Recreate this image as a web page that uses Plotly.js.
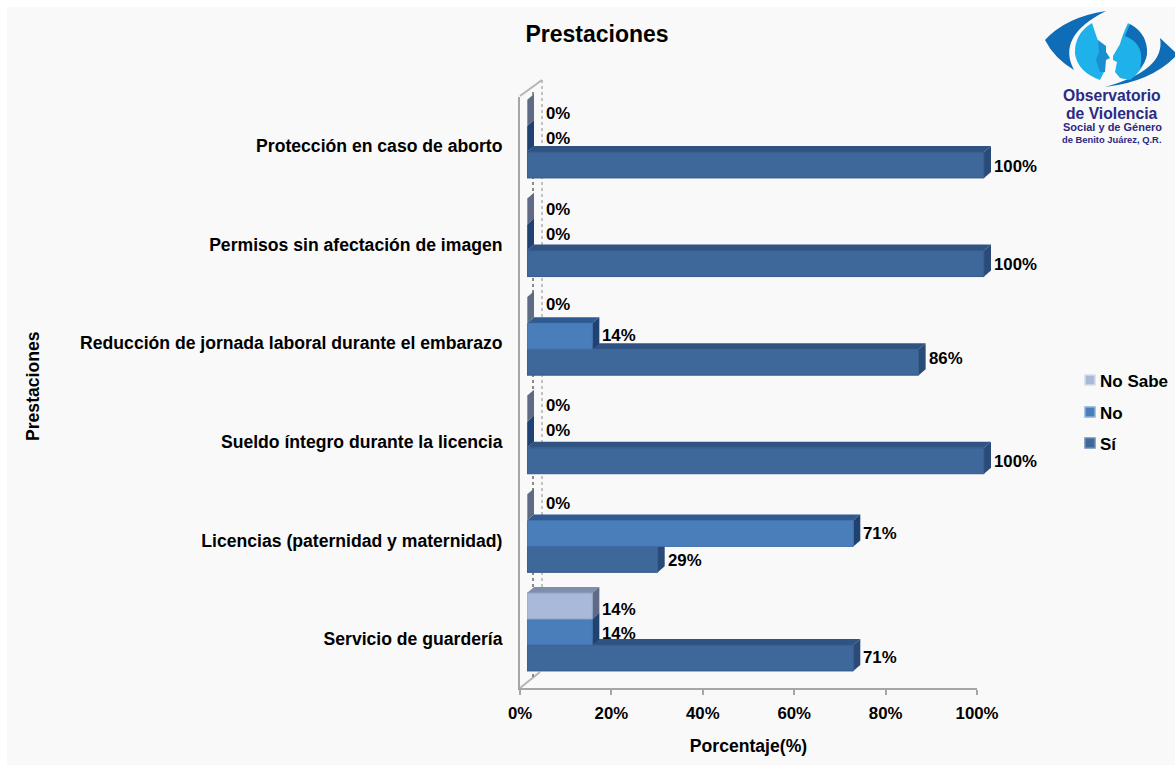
<!DOCTYPE html>
<html><head><meta charset="utf-8">
<script src="https://cdn.plot.ly/plotly-3.0.1.min.js"></script>
<style>html,body{margin:0;padding:0;background:#fff}#c{width:1175px;height:772px}</style>
</head><body><div id="c"></div>
<script>
// ---- data
const categories = ["Servicio de guardería","Licencias (paternidad y maternidad)","Sueldo íntegro durante la licencia","Reducción de jornada laboral durante el embarazo","Permisos sin afectación de imagen","Protección en caso de aborto"];
const si      = [71.4,28.6,100,85.7,100,100];
const no      = [14.3,71.4,0,14.3,0,0];
const noSabe  = [14.3,0,0,0,0,0];
const xTicks  = [0,20,40,60,80,100];
const xTickLabels = ["0%","20%","40%","60%","80%","100%"];
const siLabels     = ["71%","29%","100%","86%","100%","100%"];
const noLabels     = ["14%","71%","0%","14%","0%","0%"];
const noSabeLabels = ["14%","0%","0%","0%","0%","0%"];

// ---- layout constants
const W=1175,H=772,FONT='"Liberation Sans", Arial, sans-serif';
const plotL=520,plotR=977,plotB=688.3,pitch=98.6;
const offX=7,offY=7;                 // 3-D shift of bars relative to the axes
const depthX=7,depthY=6;             // extrude depth
const pxPerUnit=(plotR-plotL)/100;
const x2Extra=4;                     // room for the extrude past 100
const groupFrac=0.79,barW=groupFrac/3;
const dx=depthX/pxPerUnit,dy=depthY/pitch;
const fx=p=>p/W, fy=p=>1-p/H;

const series=[
 {name:"Sí",vals:si,labels:siLabels,off:-barW,front:"#3e6899",line:"#33598a",top:"#2f5482",side:"#2a4b78",nudge:[0,1,1,-4,1,2],legendY:444,swatchEdge:"#6f8db3"},
 {name:"No",vals:no,labels:noLabels,off:0,front:"#4a7ebb",line:"#3f6ea6",top:"#2f5a92",side:"#1f4272",nudge:[1,0,-4,-1,-3,-1],legendY:413,swatchEdge:"#8fb0d8"},
 {name:"No Sabe",vals:noSabe,labels:noSabeLabels,off:barW,front:"#a9b9d9",line:"#93a5c9",top:"#7f8ea9",side:"#5f6b85",nudge:[3,-4,-3,-6,-2,0],legendY:381,swatchEdge:"#d5dcec"}
];
const rows=categories.map((_,i)=>i);

const traces=[{type:"scatter",x:[0],y:[0],xaxis:"x",yaxis:"y",mode:"markers",marker:{size:1,opacity:0},showlegend:false,hoverinfo:"skip"}];
series.forEach(s=>traces.push({type:"bar",orientation:"h",name:s.name,showlegend:false,x:s.vals,y:rows,xaxis:"x2",yaxis:"y2",
  marker:{color:s.front,line:{color:s.line,width:1}},hoverinfo:"x+name"}));

// ---- background, walls
const shapes=[
 {type:"rect",xref:"paper",yref:"paper",x0:fx(7),x1:1,y0:fy(765),y1:fy(7),fillcolor:"#f9f9f9",line:{width:0},layer:"below"}
];
const pline=(a,b,c,d,col,w,dash)=>shapes.push({type:"line",xref:"paper",yref:"paper",x0:fx(a),y0:fy(b),x1:fx(c),y1:fy(d),line:{color:col,width:w,dash:dash||"solid"},layer:"below"});
pline(520,96,542,80,"#b5b5b5",2);
pline(542,80,542,672,"#b0b0b0",1.5,"dot");
pline(520,688,540,672,"#b5b5b5",2);
pline(533,92,533,680,"#8a8a8a",2,"dot");

// ---- extruded faces computed from the values
series.forEach(s=>{
  s.vals.forEach((v,i)=>{
    const y0=i+s.off-barW/2,y1=i+s.off+barW/2;
    const side=`M${v},${y0} L${v+dx},${y0+dy} L${v+dx},${y1+dy} L${v},${y1} Z`;
    const top=`M0,${y1} L${dx},${y1+dy} L${v+dx},${y1+dy} L${v},${y1} Z`;
    if(v>0) shapes.push({type:"path",xref:"x2",yref:"y2",path:top,fillcolor:s.top,line:{width:0},layer:"below"});
    shapes.push({type:"path",xref:"x2",yref:"y2",path:side,fillcolor:s.side,line:{width:0},layer:"below"});
  });
});

// ---- value labels
const annotations=[];
series.forEach(s=>s.vals.forEach((v,i)=>annotations.push({
  xref:"x2",yref:"y2",x:v,y:i+s.off,text:s.labels[i],showarrow:false,xanchor:"left",yanchor:"middle",
  xshift:v===0?17:8,yshift:-s.nudge[i],font:{family:FONT,size:16.8,color:"#000",weight:700}
})));

// ---- legend (spacing wider than a native legend allows next to the page edge)
series.forEach(s=>{
  shapes.push({type:"rect",xref:"paper",yref:"paper",x0:fx(1085),x1:fx(1095),y0:fy(s.legendY+4),y1:fy(s.legendY-6),fillcolor:s.front,line:{color:s.swatchEdge,width:1.5},layer:"below"});
  annotations.push({xref:"paper",yref:"paper",x:fx(1098),y:fy(s.legendY),text:s.name,showarrow:false,xanchor:"left",yanchor:"middle",font:{family:FONT,size:17,color:"#000",weight:700}});
});

// ---- logo
const lp=(d,col)=>shapes.push({type:"path",xref:"paper",yref:"paper",fillcolor:col,line:{width:0},layer:"below",
  path:d.replace(/(-?[\d.]+),(-?[\d.]+)/g,(m,a,b)=>fx(+a)+","+fy(+b))});
lp("M1106,11 Q1066,17 1045,40 Q1054,58 1074,70 Q1056,36 1106,11 Z","#0f6cb6");
lp("M1105,87 Q1150,82 1175,57 L1175,52 L1160,38 Q1166,70 1105,87 Z","#0f6cb6");
lp("M1092,23 Q1074,34 1075,54 Q1078,72 1100,80 L1104,72 L1103,64 L1099,58 L1102,50 L1097,38 Z","#1fb2ea");
lp("M1098,40 L1106,46 L1106,52 L1110,58 L1106,60 L1105,72 L1100,72 L1096,60 L1099,52 Z","#1a8fd0");
lp("M1128,23 Q1122,36 1120,44 L1113,56 L1113,60 L1117,62 L1115,72 L1120,78 L1130,80 Q1146,68 1147,50 Q1144,34 1128,23 Z","#1fb2ea");
lp("M1130,24 Q1148,34 1147,54 Q1146,62 1140,68 Q1146,44 1125,36 Z","#0f6cb6");
const logoText=(t,y,size,w)=>annotations.push({xref:"paper",yref:"paper",x:fx(1112),y:fy(y),text:t,showarrow:false,xanchor:"center",yanchor:"middle",font:{family:FONT,size:size,color:"#2b2a84",weight:w}});
logoText("Observatorio",95.5,15.7,700);
logoText("de Violencia",113.5,15.7,700);
logoText("Social y de Género",127,11,700);
logoText("de Benito Juárez, Q.R.",140,9.4,700);

// ---- axes
const tickFont={family:FONT,size:16.8,color:"#000",weight:700};
const catFont={family:FONT,size:17.6,color:"#000",weight:700};
const layout={
 width:W,height:H,margin:{l:0,r:0,t:0,b:0,pad:0},paper_bgcolor:"rgba(0,0,0,0)",plot_bgcolor:"rgba(0,0,0,0)",
 showlegend:false,barmode:"group",bargap:1-groupFrac,bargroupgap:0,
 title:{text:"Prestaciones",font:{family:FONT,size:23,color:"#000",weight:700},x:fx(597),xanchor:"center",y:fy(34),yanchor:"middle"},
 xaxis:{domain:[fx(plotL),fx(plotR)],range:[0,100],anchor:"y",tickmode:"array",tickvals:xTicks,ticktext:xTickLabels,ticks:"outside",ticklen:5,tickwidth:2,tickcolor:"#a6a6a6",ticklabelstandoff:4,
   showgrid:false,zeroline:false,showline:true,linecolor:"#a6a6a6",linewidth:2,tickfont:tickFont,automargin:false,
   title:{text:"Porcentaje(%)",font:catFont,standoff:17}},
 yaxis:{domain:[fy(plotB),fy(plotB-6*pitch)],range:[-0.5,5.5],anchor:"x",tickmode:"array",tickvals:rows,ticktext:categories,ticks:"",ticklabelstandoff:12,
   showgrid:false,zeroline:false,showline:true,linecolor:"#a6a6a6",linewidth:2,tickfont:catFont,automargin:false},
 xaxis2:{domain:[fx(plotL+offX),fx(plotR+offX+x2Extra*pxPerUnit)],range:[0,100+x2Extra],anchor:"y2",visible:false,fixedrange:true},
 yaxis2:{domain:[fy(plotB-offY),fy(plotB-offY-6*pitch)],range:[-0.5,5.5],anchor:"x2",visible:false,fixedrange:true},
 shapes:shapes,annotations:annotations
};
annotations.push({xref:"paper",yref:"paper",x:fx(33),y:fy(386),text:"Prestaciones",textangle:-90,showarrow:false,xanchor:"center",yanchor:"middle",font:catFont});
Plotly.newPlot("c",traces,layout,{displayModeBar:false,staticPlot:true});
</script></body></html>
